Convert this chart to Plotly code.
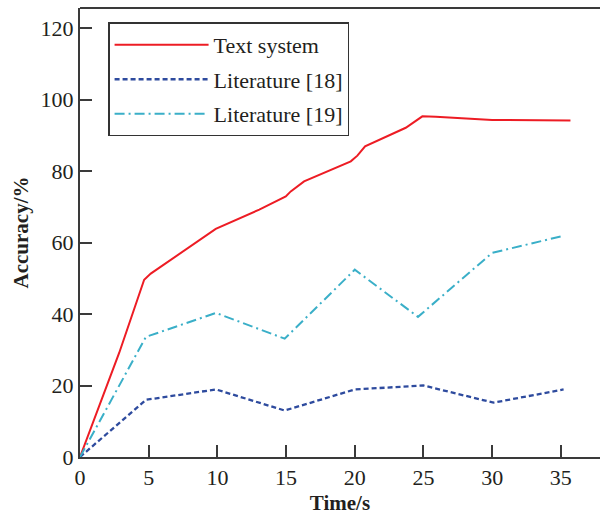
import plotly.graph_objects as go

# Text system (red solid)
red_x = [0, 2.85, 4.67, 5.15, 9.88, 13.05, 14.98, 15.34, 16.31, 19.71, 20.19, 20.75, 23.71, 24.92, 25.9, 30.0, 35.7]
red_y = [0, 29.1, 49.6, 51.3, 63.8, 69.2, 72.9, 74.3, 77.1, 82.7, 84.3, 86.9, 92.1, 95.3, 95.2, 94.3, 94.1]

# Literature [18] (blue dashed)
blue_x = [0, 4.8, 9.9, 14.9, 20.0, 25.0, 30.1, 35.2]
blue_y = [0, 16.0, 18.9, 13.0, 18.9, 20.0, 15.2, 18.9]

# Literature [19] (cyan dash-dot)
cyan_x = [0, 4.8, 9.9, 14.9, 20.0, 24.6, 30.0, 35.1]
cyan_y = [0, 33.6, 40.3, 33.1, 52.4, 39.2, 57.1, 61.8]

names = ["Text system", "Literature [18]", "Literature [19]"]
x_ticks = [0, 5, 10, 15, 20, 25, 30, 35]
y_ticks = [0, 20, 40, 60, 80, 100, 120]

fig = go.Figure()
fig.add_trace(go.Scatter(x=red_x, y=red_y, mode="lines", name=names[0], legendgroup="a",
                         line=dict(color="#ed1c24", width=2)))
fig.add_trace(go.Scatter(x=blue_x, y=blue_y, mode="lines", name=names[1], legendgroup="b",
                         line=dict(color="#2e4b9e", width=2.3, dash="5px,3px")))
fig.add_trace(go.Scatter(x=cyan_x, y=cyan_y, mode="lines", name=names[2], legendgroup="c",
                         line=dict(color="#3aafc8", width=2, dash="10px,4px,2px,4px")))

font_family = "Liberation Serif"
axis_col = "#3a3a3a"

fig.update_layout(
    width=600, height=515,
    margin=dict(l=80, r=0, t=8, b=58, autoexpand=False),
    paper_bgcolor="white", plot_bgcolor="white",
    font=dict(family=font_family, size=22, color="#231f20"),
    showlegend=True,
    legend=dict(
        x=0.054, y=0.968, xanchor="left", yanchor="top",
        bordercolor="#333333", borderwidth=1.5, bgcolor="white",
        font=dict(family=font_family, size=22, color="#231f20"),
        itemwidth=94, tracegroupgap=3, traceorder="grouped",
    ),
    xaxis=dict(
        range=[0, 37.85], tickvals=x_ticks, ticks="inside", ticklen=12, tickwidth=1.5,
        tickcolor=axis_col, showline=True, linecolor=axis_col, linewidth=2,
        showgrid=False, zeroline=False, automargin=False,
        tickfont=dict(family=font_family, size=22),
        title=dict(text="<b>Time/s</b>", font=dict(family=font_family, size=21), standoff=7),
    ),
    yaxis=dict(
        range=[0, 125.6], tickvals=y_ticks, ticks="inside", ticklen=12, tickwidth=1.5,
        tickcolor=axis_col, showline=True, linecolor=axis_col, linewidth=2,
        showgrid=False, zeroline=False, automargin=False,
        tickfont=dict(family=font_family, size=22),
        title=dict(text="<b>Accuracy/%</b>", font=dict(family=font_family, size=21), standoff=6),
    ),
)

# top frame line
fig.add_shape(type="line", xref="paper", yref="paper", x0=0, x1=1, y0=1, y1=1,
              line=dict(color=axis_col, width=2))

fig.write_html("out.html", config={"displayModeBar": False},
               post_script="document.body.style.margin='0px';")
